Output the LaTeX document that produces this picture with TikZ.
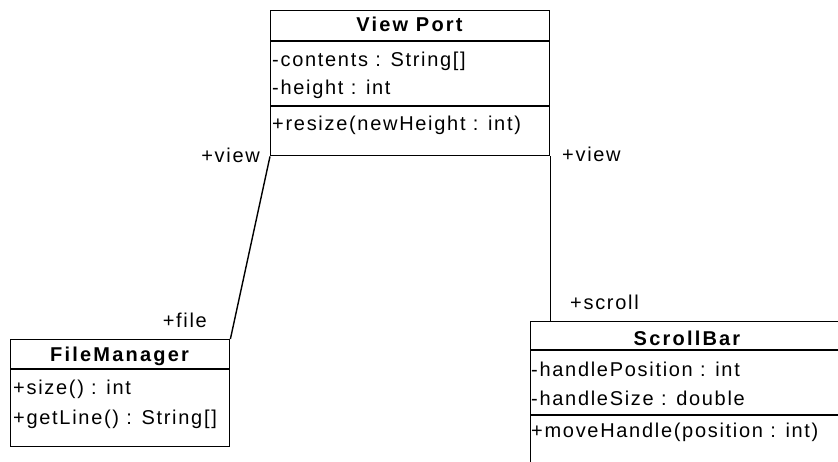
\documentclass[tikz,border=0pt]{standalone}
\usepackage{fontspec}
\newfontfamily\umlfont{Liberation Sans}[LetterSpace=8.5]
\newfontfamily\umltitle{Liberation Sans}[LetterSpace=11]
\begin{document}
\begin{tikzpicture}[x=1pt,y=-1pt,
  classbox/.style={draw, line width=1.4pt, inner sep=0pt, anchor=north west},
  divider/.style={line width=1.4pt},
  member/.style={anchor=base west, inner sep=0pt, font=\umlfont\fontsize{20}{22}\selectfont},
  classname/.style={anchor=base, inner sep=0pt, font=\umltitle\bfseries\fontsize{20}{22}\selectfont},
  role/.style={inner sep=0pt, font=\umlfont\fontsize{20}{22}\selectfont},
  assoc/.style={line width=1.4pt}]
\useasboundingbox (0,0) rectangle (838,462);
\clip (0,0) rectangle (838,462);

% ---- View Port ----
\node[classbox, minimum width=279pt, minimum height=145pt] (vp) at (270,10) {};
\draw[divider] (270,41) -- (549,41);
\draw[divider] (270,106) -- (549,106);
\node[classname] (vpname) at (409.5,31.5) {View Port};
\node[member] (vpa1) at (272,67) {-contents : String[]};
\node[member] (vpa2) at (272,95) {-height : int};
\node[member] (vpo1) at (272,131) {+resize(newHeight : int)};

% ---- FileManager ----
\node[classbox, minimum width=219pt, minimum height=107pt] (fm) at (10,339) {};
\draw[divider] (10,369) -- (229,369);
\node[classname] (fmname) at (119.5,361.5) {FileManager};
\node[member] (fmo1) at (13,394) {+size() : int};
\node[member] (fmo2) at (13,424) {+getLine() : String[]};

% ---- ScrollBar ----
\node[classbox, minimum width=314pt, minimum height=145pt] (sb) at (530,321) {};
\draw[divider] (530,350) -- (844,350);
\draw[divider] (530,415) -- (844,415);
\node[classname] (sbname) at (687,345) {ScrollBar};
\node[member] (sba1) at (531,376) {-handlePosition : int};
\node[member] (sba2) at (531,405) {-handleSize : double};
\node[member] (sbo1) at (531,437.5) {+moveHandle(position : int)};

% ---- associations ----
\draw[assoc] (vp.south west) -- (fm.north east);
\draw[assoc] (vp.south east) -- (vp.south east |- sb.north);

% ---- role names ----
\node[role, anchor=base east] (r1) at (260,163) {+view};
\node[role, anchor=base east] (r2) at (207,327) {+file};
\node[role, anchor=base west] (r3) at (562,162) {+view};
\node[role, anchor=base west] (r4) at (570,309) {+scroll};
\end{tikzpicture}
\end{document}
